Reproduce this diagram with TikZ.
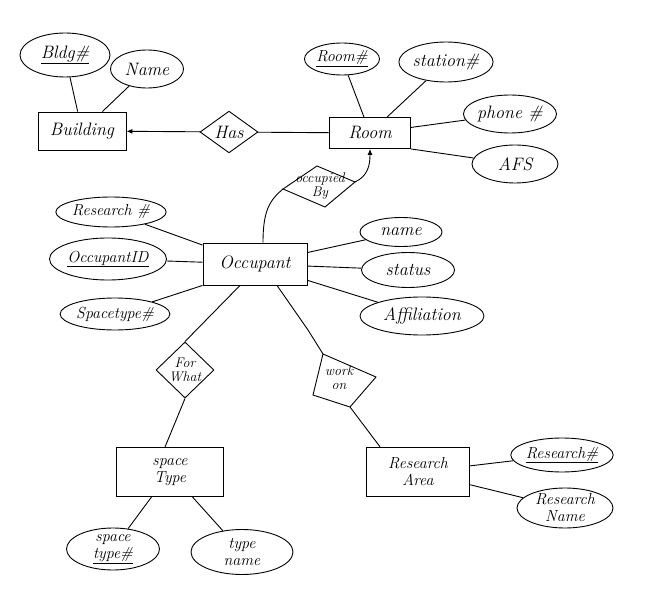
\documentclass[tikz,border=0pt]{standalone}
\usepackage{fontspec}
\usetikzlibrary{shapes.geometric,arrows.meta}
\begin{document}
\begin{tikzpicture}[x=1pt,y=-1pt,line width=0.9pt,
  every node/.style={font=\fontsize{18}{19}\selectfont\itshape},
  entity/.style={draw,rectangle,inner sep=0pt,align=center},
  attr/.style={draw,ellipse,inner sep=0pt,align=center},
  rel/.style={draw,diamond,inner sep=0pt,align=center},
  mid/.style={font=\fontsize{16}{17}\selectfont\itshape},
  small/.style={font=\fontsize{14}{14}\selectfont\itshape,align=center},
  arr/.style={-{Latex[length=6pt,width=5pt]}}]
\useasboundingbox (0,0) rectangle (654,607);
% entities
\node[entity,minimum width=88,minimum height=38] (building) at (82,131) {Building};
\node[entity,minimum width=81,minimum height=31] (room) at (370,133) {Room};
\node[entity,minimum width=104,minimum height=42] (occupant) at (255,264) {Occupant};
\node[entity,minimum width=107,minimum height=49,mid] (spacetype) at (170,472) {space\\Type};
\node[entity,line width=1.4pt,minimum width=103,minimum height=49,mid] (resarea) at (418,472) {Research\\Area};
% relationships
\node[rel,minimum width=58,minimum height=40] (has) at (229,132) {Has};
\node[rel,minimum width=58,minimum height=56,small] (forwhat) at (185,370) {For\\What};
% occupied By (tilted)
\coordinate (obl) at (283,189);
\coordinate (obt) at (317,166);
\coordinate (obr) at (355,182);
\coordinate (obb) at (325,207);
\draw (obl) -- (obt) -- (obr) -- (obb) -- cycle;
\node[small,inner sep=0pt] (occby) at (320,186) {occupied\\By};
% work on
\coordinate (wotl) at (323,354);
\coordinate (wor) at (376,377);
\coordinate (wob) at (350,407);
\coordinate (wobl) at (313,395);
\draw (wotl) -- (wor) -- (wob) -- (wobl) -- cycle;
\node[small,inner sep=0pt] (workon) at (339,378) {work\\on};
% attributes
\node[attr,minimum width=90,minimum height=44] (bldg) at (65,55) {\underline{Bldg\#}};
\node[attr,minimum width=73,minimum height=38] (bname) at (147,69) {Name};
\node[attr,minimum width=75,minimum height=32,mid] (roomno) at (342,59) {\underline{Room\#}};
\node[attr,minimum width=87,minimum height=40] (station) at (446,62) {station\#};
\node[attr,minimum width=93,minimum height=38] (phone) at (510,114) {phone \#};
\node[attr,minimum width=86,minimum height=38] (afs) at (515,164) {AFS};
\node[attr,minimum width=103,minimum height=30,mid] (resno) at (111,212) {Research \#};
\node[attr,minimum width=117,minimum height=42,mid] (occid) at (108,259) {\underline{OccupantID}};
\node[attr,minimum width=106,minimum height=32,mid] (stype) at (115,314) {Spacetype\#};
\node[attr,minimum width=82,minimum height=29] (oname) at (401,232) {name};
\node[attr,minimum width=93,minimum height=35] (status) at (408,270) {status};
\node[attr,minimum width=124,minimum height=38] (affil) at (422,316) {Affiliation};
\node[attr,minimum width=93,minimum height=42,mid] (stno) at (113,549) {space\\\underline{type\#}};
\node[attr,minimum width=102,minimum height=45,mid] (tname) at (242,552) {type\\name};
\node[attr,minimum width=91,minimum height=34,mid] (rano) at (562,455) {\underline{Research\#}};
\node[attr,minimum width=96,minimum height=40,mid] (raname) at (565,508) {Research\\Name};
% connectors
\draw (bldg) -- (building);
\draw (bname) -- (building);
\draw[arr] (has) -- (building);
\draw (room) -- (has);
\draw (roomno) -- (room);
\draw (station) -- (room);
\draw (phone) -- (room);
\draw (afs) -- (room.south east);
\draw ([xshift=8pt]occupant.north) .. controls (263,210) and (270,200) .. (obl);
\draw[arr] (obr) .. controls (368,176) and (370,165) .. (room.south);
\draw (resno) -- (occupant);
\draw (occid) -- (occupant);
\draw (stype) -- (occupant.south west);
\draw (oname) -- (occupant);
\draw (status) -- (occupant);
\draw (affil) -- (occupant);
\draw ([xshift=-15pt]occupant.south) -- (forwhat.north);
\draw (forwhat.south) -- ([xshift=-5pt]spacetype.north);
\draw ([xshift=22pt]occupant.south) -- (308,330) -- (wotl);
\draw (wob) -- ([xshift=-38pt]resarea.north);
\draw (resarea) -- (rano);
\draw (resarea) -- (raname);
\draw (spacetype) -- (stno);
\draw (spacetype) -- (tname);
\end{tikzpicture}
\end{document}
